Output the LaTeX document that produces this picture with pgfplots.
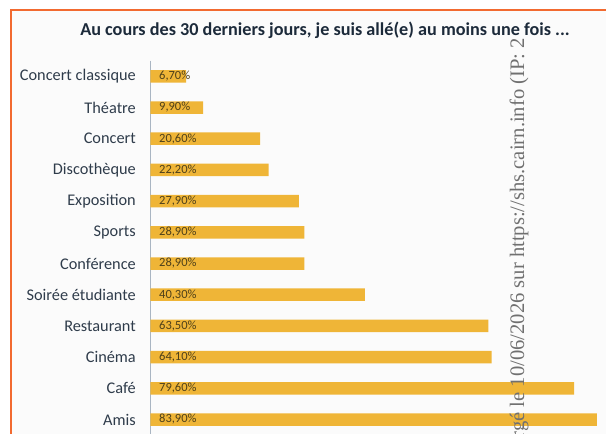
\documentclass[border=0pt]{standalone}
\usepackage{fontspec}
\setmainfont{Carlito}
\newfontfamily\wmfont{Liberation Serif}
\usepackage{pgfplots}
\pgfplotsset{compat=1.18}
\definecolor{bargold}{HTML}{EFB537}
\definecolor{framec}{HTML}{F26A30}
\definecolor{innerc}{HTML}{FBFBFB}
\definecolor{titlec}{HTML}{1C2A3A}
\definecolor{catc}{HTML}{2F3C4B}
\definecolor{valc}{HTML}{4E401A}
\definecolor{axc}{HTML}{A9B5C2}
\definecolor{wmc}{HTML}{707070}
\begin{document}
\begin{tikzpicture}
\useasboundingbox (0pt,0pt) rectangle (606pt,434pt);
\fill[white] (0pt,0pt) rectangle (606pt,434pt);
\fill[innerc] (11pt,0pt) rectangle (606pt,424pt);
\draw[framec, line width=1.6pt] (11pt,0pt) -- (11pt,424pt) -- (606pt,424pt);
\node[font=\bfseries\fontsize{18.2}{21}\selectfont, text=titlec] at (325pt,404pt) {Au cours des 30 derniers jours, je suis allé(e) au moins une fois ...};
\begin{axis}[
  at={(150.5pt,373.3pt)}, anchor=north west,
  scale only axis, width=447pt, height=374.4pt,
  xmin=0, xmax=84, ymin=-0.5, ymax=11.5,
  y dir=reverse,
  axis x line=none,
  axis y line*=left,
  y axis line style={draw=axc, line width=1pt, -},
  ytick={0,...,11},
  yticklabels={Concert classique, Théatre, Concert, Discothèque, Exposition, Sports, Conférence, Soirée étudiante, Restaurant, Cinéma, Café, Amis},
  major tick length=0pt,
  yticklabel style={font=\fontsize{16.3}{18}\selectfont, text=catc, anchor=east, inner sep=0pt, xshift=-14.5pt},
  clip=false,
]
\addplot[xbar, fill=bargold, draw=none, bar width=12.5pt,
  point meta=x,
  visualization depends on={x \as \rawx},
  nodes near coords={\pgfmathprintnumber[fixed, fixed zerofill, precision=2, use comma, assume math mode=true]{\pgfplotspointmeta}\%},
  every node near coord/.append style={anchor=west, shift={(axis direction cs:-\rawx,0)}, font=\fontsize{12.5}{14}\selectfont, text=valc, inner ysep=0pt, inner xsep=8.5pt},
] coordinates {(6.7,0) (9.9,1) (20.6,2) (22.2,3) (27.9,4) (28.9,5) (28.9,6) (40.3,7) (63.5,8) (64.1,9) (79.6,10) (83.9,11)};
\end{axis}
\begin{scope}
\clip (0pt,0pt) rectangle (606pt,434pt);
\node[rotate=90, anchor=base east, font=\wmfont\fontsize{20.6}{24}\selectfont, text=wmc, inner sep=0pt] at (524pt,396pt) {Document téléchargé le 10/06/2026 sur https://shs.cairn.info (IP: 2};
\end{scope}
\end{tikzpicture}
\end{document}
